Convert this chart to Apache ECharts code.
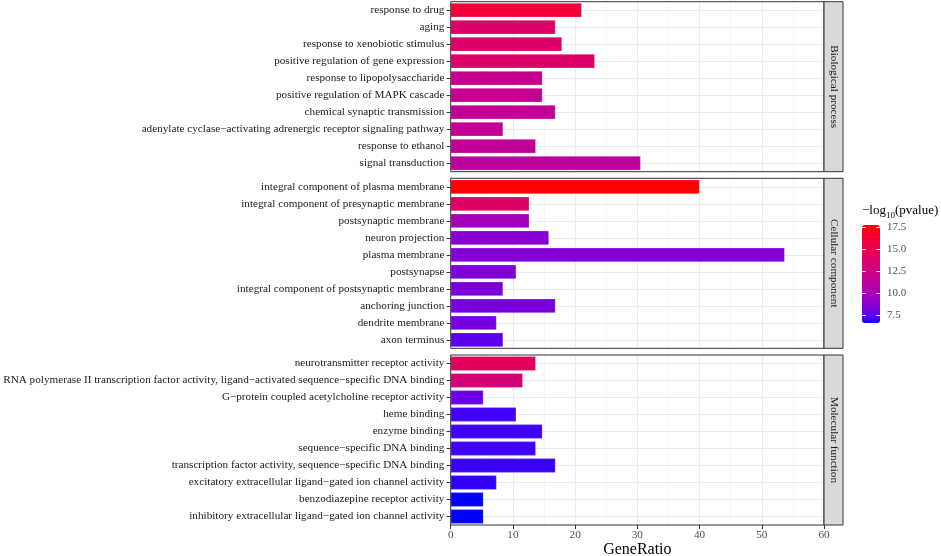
<!DOCTYPE html>
<html><head><meta charset="utf-8">
<script src="https://cdn.jsdelivr.net/npm/echarts@6/dist/echarts.min.js"></script>
<style>html,body{margin:0;padding:0;background:#fff}#c{width:941px;height:556px}</style>
</head><body><div id="c"></div>
<script>
// ---------------- data ----------------
const facetNames = ['Biological process', 'Cellular component', 'Molecular function'];

const bpTerms = ['response to drug', 'aging', 'response to xenobiotic stimulus', 'positive regulation of gene expression',
  'response to lipopolysaccharide', 'positive regulation of MAPK cascade', 'chemical synaptic transmission',
  'adenylate cyclase\u2212activating adrenergic receptor signaling pathway', 'response to ethanol', 'signal transduction'];
const bpRatio = [21.05, 16.84, 17.89, 23.16, 14.74, 14.74, 16.84, 8.42, 13.68, 30.53];
const bpLogP  = [16.0, 13.8, 13.7, 13.8, 11.8, 11.8, 11.6, 11.6, 11.5, 11.1];

const ccTerms = ['integral component of plasma membrane', 'integral component of presynaptic membrane', 'postsynaptic membrane',
  'neuron projection', 'plasma membrane', 'postsynapse', 'integral component of postsynaptic membrane',
  'anchoring junction', 'dendrite membrane', 'axon terminus'];
const ccRatio = [40.0, 12.63, 12.63, 15.79, 53.68, 10.53, 8.42, 16.84, 7.37, 8.42];
const ccLogP  = [17.73, 13.9, 9.8, 8.6, 8.5, 8.35, 8.3, 8.1, 8.0, 7.35];

const mfTerms = ['neurotransmitter receptor activity',
  'RNA polymerase II transcription factor activity, ligand\u2212activated sequence\u2212specific DNA binding',
  'G\u2212protein coupled acetylcholine receptor activity', 'heme binding', 'enzyme binding',
  'sequence\u2212specific DNA binding', 'transcription factor activity, sequence\u2212specific DNA binding',
  'excitatory extracellular ligand\u2212gated ion channel activity', 'benzodiazepine receptor activity',
  'inhibitory extracellular ligand\u2212gated ion channel activity'];
const mfRatio = [13.68, 11.58, 5.26, 10.53, 14.74, 13.68, 16.84, 7.37, 5.26, 5.26];
const mfLogP  = [14.4, 13.0, 7.7, 7.0, 6.95, 6.95, 6.9, 6.85, 6.56, 6.56];

const xTicks = [0, 10, 20, 30, 40, 50, 60];
const legendTicks = [7.5, 10.0, 12.5, 15.0, 17.5];
const colorMin = 6.56, colorMax = 17.73;

// ---------------- colour scale (Lab interpolation blue -> red, like ggplot) ----------------
function toLin(c){c/=255;return c<=0.04045?c/12.92:Math.pow((c+0.055)/1.055,2.4);}
function fromLin(c){c=c<=0.0031308?12.92*c:1.055*Math.pow(c,1/2.4)-0.055;return Math.max(0,Math.min(255,Math.round(c*255)));}
function rgb2lab(rgb){
  const R=toLin(rgb[0]),G=toLin(rgb[1]),B=toLin(rgb[2]);
  const X=(0.4124*R+0.3576*G+0.1805*B)/0.95047, Y=0.2126*R+0.7152*G+0.0722*B, Z=(0.0193*R+0.1192*G+0.9505*B)/1.08883;
  const f=t=>t>0.008856?Math.cbrt(t):7.787*t+16/116;
  const fx=f(X),fy=f(Y),fz=f(Z);
  return [116*fy-16,500*(fx-fy),200*(fy-fz)];
}
function lab2rgb(lab){
  const fy=(lab[0]+16)/116, fx=fy+lab[1]/500, fz=fy-lab[2]/200;
  const fi=t=>t*t*t>0.008856?t*t*t:(t-16/116)/7.787;
  const X=fi(fx)*0.95047, Y=fi(fy), Z=fi(fz)*1.08883;
  const R=3.2406*X-1.5372*Y-0.4986*Z, G=-0.9689*X+1.8758*Y+0.0415*Z, B=0.0557*X-0.2040*Y+1.0570*Z;
  return 'rgb('+fromLin(R)+','+fromLin(G)+','+fromLin(B)+')';
}
const lowLab=rgb2lab([0,0,255]), highLab=rgb2lab([255,0,0]);
const colorStops=[];
for(let i=0;i<=30;i++){const t=i/30;colorStops.push(lab2rgb(lowLab.map((v,k)=>v+(highLab[k]-v)*t)));}

// ---------------- layout ----------------
const FONT='"Liberation Serif", "Times New Roman", serif';
const PL=450.7, PW=373.3, PH=170;
const panelTops=[1.7, 178.3, 355];
const STRIP_W=19;
const LEG_L=862, LEG_T=225, LEG_W=18, LEG_H=98;

const termsList=[bpTerms, ccTerms, mfTerms];
const ratioList=[bpRatio, ccRatio, mfRatio];
const logpList=[bpLogP, ccLogP, mfLogP];

const grids=[], xAxes=[], yAxes=[], series=[], gridSeries=[], graphics=[];
for(let i=0;i<3;i++){
  const last = i===2;
  grids.push({left:PL, top:panelTops[i], width:PW, height:PH, show:false, containLabel:false, outerBoundsMode:'none'});
  xAxes.push({type:'value', gridIndex:i, min:xTicks[0], max:xTicks[xTicks.length-1], interval:10,
    axisLine:{show:false},
    axisTick:{show:last, length:4, lineStyle:{color:'#333', width:1}},
    axisLabel:{show:last, fontFamily:FONT, fontSize:11.2, color:'#4D4D4D', margin:5},
    splitLine:{show:true, lineStyle:{color:'#EBEBEB', width:1}},
    minorTick:{show:false, splitNumber:2},
    minorSplitLine:{show:true, lineStyle:{color:'#F3F3F3', width:0.7}},
    name: last?'GeneRatio':'', nameLocation:'middle', nameGap:17,
    nameTextStyle:{fontFamily:FONT, fontSize:16, color:'#000'}
  });
  yAxes.push({type:'category', gridIndex:i, data:termsList[i], inverse:true,
    axisLine:{show:false},
    axisTick:{show:true, alignWithLabel:true, length:4, lineStyle:{color:'#333', width:1}},
    axisLabel:{fontFamily:FONT, fontSize:11.2, color:'#1A1A1A', margin:6.3},
    splitLine:{show:false}
  });
  series.push({type:'bar', xAxisIndex:i, yAxisIndex:i, silent:true, z:3,
    data: termsList[i].map((t,j)=>[ratioList[i][j], t, logpList[i][j]]),
    encode:{x:0, y:1}, barCategoryGap:'16%',
    itemStyle:{borderColor:'rgba(255,255,255,0.5)', borderWidth:0.5}
  });
  // horizontal major grid lines at category centres
  gridSeries.push({type:'line', xAxisIndex:i, yAxisIndex:i, data:[], silent:true, z:1,
    markLine:{silent:true, symbol:'none', animation:false, z:1, label:{show:false},
      lineStyle:{color:'#EBEBEB', width:1, type:'solid'},
      emphasis:{disabled:true},
      data: termsList[i].map(t=>({yAxis:t}))}
  });
  // panel border on top
  graphics.push({type:'rect', z:100, silent:true,
    shape:{x:PL, y:panelTops[i], width:PW, height:PH},
    style:{fill:null, stroke:'#333', lineWidth:1}});
  // strip
  graphics.push({type:'rect', z:100, silent:true,
    shape:{x:PL+PW, y:panelTops[i], width:STRIP_W, height:PH},
    style:{fill:'#D9D9D9', stroke:'#333', lineWidth:1}});
  graphics.push({type:'text', z:101, silent:true,
    x:PL+PW+STRIP_W/2, y:panelTops[i]+PH/2, rotation:-Math.PI/2,
    style:{text:facetNames[i], font:'11.2px '+FONT, fill:'#1A1A1A', align:'center', verticalAlign:'middle'}});
}

// legend axis (ticks + labels of colour bar)
grids.push({left:LEG_L, top:LEG_T, width:LEG_W, height:LEG_H, show:false, containLabel:false, outerBoundsMode:'none'});
xAxes.push({type:'value', gridIndex:3, show:false});
['left','right'].forEach(pos=>{
  yAxes.push({type:'value', gridIndex:3, position:pos, min:colorMin, max:colorMax, z:10,
    axisLine:{show:false},
    axisTick:{show:true, inside:true, length:3.6, customValues:legendTicks, lineStyle:{color:'#fff', width:1}},
    axisLabel:{show:pos==='right', customValues:legendTicks, margin:7, fontFamily:FONT, fontSize:11, color:'#4D4D4D',
      formatter:v=>v.toFixed(1)},
    splitLine:{show:false}
  });
});
graphics.push({type:'text', silent:true, x:LEG_L, y:LEG_T-23,
  style:{text:'{a|\u2212log}{b|10}{a|(pvalue)}', fill:'#000',
    rich:{a:{fontFamily:FONT, fontSize:13, lineHeight:18, verticalAlign:'middle'},
          b:{fontFamily:FONT, fontSize:9, lineHeight:18, verticalAlign:'bottom'}}}});

const chart=echarts.init(document.getElementById('c'), null, {renderer:'canvas'});
chart.setOption({
  animation:false,
  backgroundColor:'#fff',
  textStyle:{fontFamily:FONT},
  grid:grids, xAxis:xAxes, yAxis:yAxes, series:series.concat(gridSeries),
  visualMap:{type:'continuous', min:colorMin, max:colorMax, dimension:2, seriesIndex:[0,1,2],
    inRange:{color:colorStops}, left:LEG_L, top:LEG_T, itemWidth:LEG_W, itemHeight:LEG_H,
    calculable:false, text:null, padding:0, hoverLink:false, z:5},
  graphic:graphics
});
</script></body></html>
